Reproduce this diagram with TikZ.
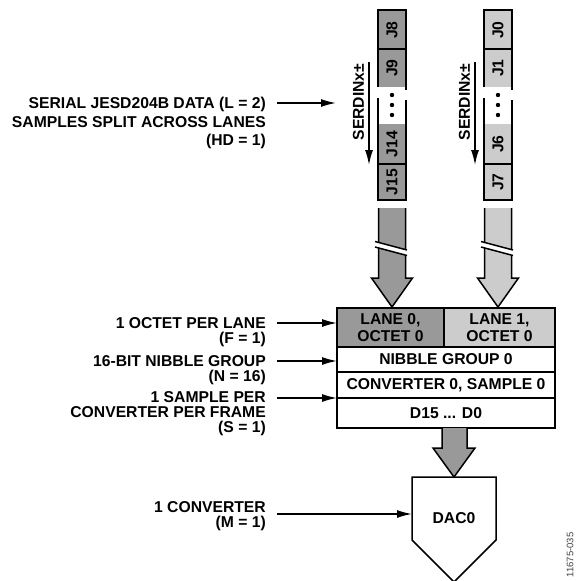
\documentclass[tikz,border=0pt]{standalone}
\usepackage{fontspec}
\setmainfont{Liberation Sans}
\usetikzlibrary{arrows.meta, positioning, calc}
\definecolor{lanedark}{RGB}{153,153,153}
\definecolor{lanelight}{RGB}{204,204,204}
\newcommand{\lblfont}{\fontsize{15.7}{15}\selectfont\bfseries}
\newcommand{\lblfontwide}{\fontsize{15.7}{18.5}\selectfont\bfseries}
\newcommand{\cellfont}{\fontsize{15.7}{16.5}\selectfont\bfseries}

\begin{document}
\begin{tikzpicture}[x=1pt, y=-1pt,
    lbl/.style={font=\lblfont, align=right, anchor=east, inner sep=0pt},
    cell/.style={draw, line width=1.5pt, inner sep=0pt, outer sep=0pt, align=center, font=\cellfont, anchor=north west},
    ptr/.style={line width=1.5pt, -{Latex[length=15pt, width=8pt]}},
    fat/.style={line width=1.5pt, line join=miter},
    jtext/.style={font=\cellfont, rotate=90, inner sep=0pt}]
    \useasboundingbox (0,0) rectangle (580,581);

    % serial lanes with their fat arrows
    \foreach \xc/\col/\ja/\jb/\jc/\jd/\n in {392/lanedark/J8/J9/J14/J15/0, 498/lanelight/J0/J1/J6/J7/1} {
        \fill[\col] (\xc-14,10) rectangle (\xc+14,87);
        \fill[\col] (\xc-14,124) rectangle (\xc+14,200);
        \draw[fat] (\xc-14,87) -- (\xc-14,10) -- (\xc+14,10) -- (\xc+14,90);
        \draw[fat] (\xc-14,98) -- (\xc-14,200) -- (\xc+14,200) -- (\xc+14,100);
        \draw[fat] (\xc-14,49) -- (\xc+14,49);
        \draw[fat] (\xc-14,164) -- (\xc+14,164);
        \node[jtext] (s\n a) at (\xc,30) {\ja};
        \node[jtext] (s\n b) at (\xc,68) {\jb};
        \node[jtext] (s\n c) at (\xc,144) {\jc};
        \node[jtext] (s\n d) at (\xc,182) {\jd};
        \foreach \yd in {95,105,115}
            \fill (\xc,\yd) circle (2.2);
        \node[jtext] (serdin\n) at (\xc-33.5,102) {SERDINx±};
        \coordinate (sdtop\n) at (\xc-23,62);
        \coordinate (sdbot\n) at (\xc-23,165);
        \draw[ptr] (sdtop\n) -- (sdbot\n);
        \fill[\col] (\xc-13.5,208) -- (\xc-13.5,278) -- (\xc-20.5,278) -- (\xc,307) -- (\xc+20.5,278) -- (\xc+13.5,278) -- (\xc+13.5,208) -- cycle;
        \draw[fat] (\xc-13.5,208) -- (\xc-13.5,278) -- (\xc-20.5,278) -- (\xc,307) -- (\xc+20.5,278) -- (\xc+13.5,278) -- (\xc+13.5,208);
        \fill[white] (\xc-17,241.5) -- (\xc+15,250) -- (\xc+15,255.5) -- (\xc-17,247) -- cycle;
        \draw[fat] (\xc-17,241.5) -- (\xc+15,250);
        \draw[fat] (\xc-17,247) -- (\xc+15,255.5);
    }

    % frame
    \node[cell, fill=lanedark, minimum width=107pt, minimum height=39pt] (lane0) at (337,308) {LANE 0,\\OCTET 0};
    \node[cell, fill=lanelight, minimum width=111pt, minimum height=39pt] (lane1) at (lane0.north east) {LANE 1,\\OCTET 0};
    \node[cell, minimum width=218pt, minimum height=25pt] (nibble) at (lane0.south west) {NIBBLE GROUP 0};
    \node[cell, minimum width=218pt, minimum height=26pt] (conv) at (nibble.south west) {CONVERTER 0, SAMPLE 0};
    \node[cell, minimum width=218pt, minimum height=30pt] (dbits) at (conv.south west) {D15 ... D0};

    % to the DAC
    \fill[lanedark] (442,428) -- (442,448) -- (433,448) -- (454,477) -- (475,448) -- (467,448) -- (467,428) -- cycle;
    \draw[fat] (442,428) -- (442,448) -- (433,448) -- (454,477) -- (475,448) -- (467,448) -- (467,428);
    \node[minimum width=84pt, minimum height=63pt, inner sep=0pt, outer sep=0pt, anchor=north] (dac) at (454,477) {};
    \draw[fat] (dac.north west) -- (dac.north east) -- (dac.south east) -- ($(dac.south)+(0,42)$) -- (dac.south west) -- cycle;
    \node[font=\cellfont] (daclbl) at (454,518) {DAC0};

    % labels on the left
    \node[lbl, font=\lblfontwide] (lblL) at (266,123) {SERIAL JESD204B DATA (L = 2)\\SAMPLES SPLIT ACROSS LANES\\(HD = 1)};
    \node[lbl] (lblF) at (266,332) {1 OCTET PER LANE\\(F = 1)};
    \node[lbl] (lblN) at (266,370) {16-BIT NIBBLE GROUP\\(N = 16)};
    \node[lbl] (lblS) at (266,413.5) {1 SAMPLE PER\\CONVERTER PER FRAME\\(S = 1)};
    \node[lbl] (lblM) at (266,516) {1 CONVERTER\\(M = 1)};

    \path (lblL.east) ++(11,-20) coordinate (lOut);
    \coordinate (lEnd) at (336,103);
    \draw[ptr] (lOut) -- (lEnd);
    \path (lblF.east) ++(11,-9) coordinate (fOut);
    \draw[ptr] (fOut) -- (fOut -| lane0.west);
    \path (lblN.east) ++(11,-9) coordinate (nOut);
    \draw[ptr] (nOut) -- (nOut -| nibble.west);
    \path (lblS.east) ++(11,-15.5) coordinate (sOut);
    \draw[ptr] (sOut) -- (sOut -| conv.west);
    \path (lblM.east) ++(11,-2) coordinate (mOut);
    \draw[ptr] (mOut) -- (mOut -| dac.west);

    \node[font=\fontsize{9.5}{9.5}\selectfont, text=black!75, rotate=90, inner sep=0pt] (fignum) at (570,555) {11675-035};
\end{tikzpicture}
\end{document}
